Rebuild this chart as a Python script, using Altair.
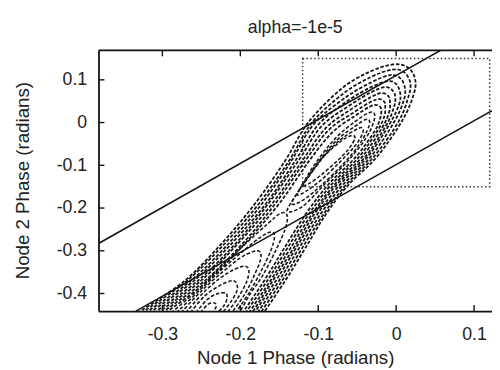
import altair as alt
import pandas as pd

X_DOMAIN = [-0.382, 0.123]
Y_DOMAIN = [-0.441, 0.169]
X_TICKS = [-0.3, -0.2, -0.1, 0.0, 0.1]
Y_TICKS = [-0.4, -0.3, -0.2, -0.1, 0.0, 0.1]

# Outer contour lines enclosing both wells (open, cut by the bottom edge)
BAND_X = [
    [-0.332, -0.272, -0.222, -0.180, -0.142, -0.113, -0.071, -0.035, -0.004, 0.015, 0.024, 0.023, 0.008, -0.025, -0.061, -0.090, -0.117, -0.142, -0.170],
    [-0.327, -0.269, -0.218, -0.175, -0.137, -0.108, -0.067, -0.033, -0.005, 0.010, 0.018, 0.016, 0.003, -0.029, -0.064, -0.093, -0.121, -0.146, -0.174],
    [-0.322, -0.264, -0.213, -0.171, -0.134, -0.105, -0.064, -0.032, -0.008, 0.005, 0.011, 0.010, -0.003, -0.033, -0.068, -0.097, -0.125, -0.150, -0.178],
    [-0.317, -0.260, -0.209, -0.166, -0.129, -0.100, -0.062, -0.032, -0.010, 0.000, 0.005, 0.004, -0.008, -0.037, -0.072, -0.101, -0.129, -0.154, -0.182],
    [-0.311, -0.255, -0.204, -0.163, -0.125, -0.096, -0.059, -0.032, -0.014, -0.005, -0.001, -0.003, -0.013, -0.040, -0.076, -0.105, -0.132, -0.158, -0.185],
    [-0.306, -0.251, -0.201, -0.158, -0.120, -0.091, -0.057, -0.032, -0.018, -0.010, -0.008, -0.009, -0.018, -0.044, -0.079, -0.108, -0.136, -0.161, -0.189],
    [-0.301, -0.246, -0.195, -0.154, -0.116, -0.087, -0.055, -0.033, -0.021, -0.015, -0.014, -0.015, -0.023, -0.048, -0.083, -0.112, -0.140, -0.165, -0.193],
    [-0.296, -0.242, -0.192, -0.149, -0.111, -0.082, -0.054, -0.034, -0.025, -0.020, -0.019, -0.021, -0.028, -0.052, -0.087, -0.116, -0.144, -0.169, -0.197],
]
BAND_Y = [
    [-0.445, -0.371, -0.279, -0.187, -0.088, 0.000, 0.078, 0.118, 0.136, 0.129, 0.104, 0.069, 0.005, -0.081, -0.145, -0.214, -0.295, -0.369, -0.445],
    [-0.445, -0.371, -0.279, -0.187, -0.088, 0.000, 0.069, 0.106, 0.124, 0.118, 0.094, 0.062, 0.002, -0.081, -0.145, -0.214, -0.295, -0.369, -0.445],
    [-0.445, -0.371, -0.279, -0.187, -0.088, -0.002, 0.060, 0.094, 0.111, 0.104, 0.083, 0.053, 0.000, -0.081, -0.145, -0.214, -0.295, -0.369, -0.445],
    [-0.445, -0.371, -0.279, -0.187, -0.088, -0.005, 0.051, 0.083, 0.097, 0.090, 0.071, 0.044, -0.002, -0.081, -0.145, -0.214, -0.295, -0.369, -0.445],
    [-0.445, -0.371, -0.279, -0.187, -0.088, -0.009, 0.041, 0.071, 0.083, 0.076, 0.060, 0.035, -0.007, -0.081, -0.145, -0.214, -0.295, -0.369, -0.445],
    [-0.445, -0.371, -0.279, -0.187, -0.088, -0.014, 0.032, 0.060, 0.069, 0.062, 0.048, 0.025, -0.012, -0.081, -0.145, -0.214, -0.295, -0.369, -0.445],
    [-0.445, -0.371, -0.279, -0.187, -0.088, -0.018, 0.023, 0.048, 0.055, 0.048, 0.037, 0.016, -0.016, -0.081, -0.145, -0.214, -0.295, -0.369, -0.445],
    [-0.445, -0.371, -0.279, -0.187, -0.088, -0.023, 0.014, 0.037, 0.041, 0.035, 0.025, 0.007, -0.021, -0.081, -0.145, -0.214, -0.295, -0.369, -0.445],
]

# Closed loops around the upper well
LOOP_X = [
    [-0.140, -0.124, -0.105, -0.078, -0.053, -0.035, -0.028, -0.029, -0.039, -0.061, -0.092, -0.120],
    [-0.134, -0.119, -0.100, -0.076, -0.053, -0.039, -0.034, -0.037, -0.048, -0.068, -0.096, -0.120],
    [-0.127, -0.113, -0.095, -0.072, -0.053, -0.044, -0.043, -0.053, -0.072, -0.096, -0.116],
    [-0.121, -0.107, -0.090, -0.071, -0.057, -0.053, -0.061, -0.077, -0.096, -0.112],
]
LOOP_Y = [
    [-0.207, -0.157, -0.099, -0.037, 0.002, 0.023, 0.021, 0.000, -0.037, -0.088, -0.145, -0.196],
    [-0.189, -0.143, -0.092, -0.041, -0.009, 0.007, 0.002, -0.018, -0.053, -0.097, -0.147, -0.182],
    [-0.168, -0.129, -0.083, -0.041, -0.018, -0.012, -0.025, -0.055, -0.092, -0.134, -0.161],
    [-0.147, -0.113, -0.074, -0.044, -0.030, -0.037, -0.062, -0.092, -0.122, -0.143],
]

# Arcs around the lower well (open, cut by the bottom edge)
ARC_X = [
    [-0.289, -0.256, -0.224, -0.193, -0.165, -0.148, -0.140, -0.142, -0.154, -0.171, -0.188, -0.201],
    [-0.282, -0.252, -0.222, -0.194, -0.173, -0.160, -0.156, -0.161, -0.174, -0.189, -0.206],
    [-0.276, -0.250, -0.223, -0.201, -0.184, -0.175, -0.174, -0.182, -0.194, -0.211],
    [-0.270, -0.248, -0.226, -0.207, -0.194, -0.189, -0.192, -0.203, -0.217],
    [-0.264, -0.246, -0.227, -0.213, -0.206, -0.204, -0.212, -0.223],
    [-0.257, -0.243, -0.230, -0.219, -0.217, -0.222, -0.230],
    [-0.251, -0.242, -0.233, -0.231, -0.236],
]
ARC_Y = [
    [-0.445, -0.394, -0.336, -0.283, -0.237, -0.212, -0.217, -0.247, -0.297, -0.357, -0.403, -0.445],
    [-0.445, -0.392, -0.341, -0.297, -0.267, -0.256, -0.267, -0.300, -0.350, -0.399, -0.445],
    [-0.445, -0.394, -0.350, -0.318, -0.302, -0.302, -0.320, -0.357, -0.401, -0.445],
    [-0.445, -0.399, -0.364, -0.343, -0.336, -0.346, -0.373, -0.410, -0.445],
    [-0.445, -0.406, -0.382, -0.371, -0.373, -0.392, -0.419, -0.445],
    [-0.445, -0.415, -0.401, -0.399, -0.412, -0.431, -0.445],
    [-0.445, -0.426, -0.422, -0.431, -0.445],
]

# Two straight solid lines
LINE_X = [[-0.382, 0.057], [-0.334, 0.123]]
LINE_Y = [[-0.283, 0.169], [-0.441, 0.028]]

# Dotted box
BOX_X = [-0.120, 0.120]
BOX_Y = [-0.150, 0.150]

FONT = "Liberation Sans"
INK = "#222222"
TICK_DX = 0.0076
TICK_DY = 0.0140


def long(xs, ys, family):
    rows = []
    for c, (cx, cy) in enumerate(zip(xs, ys)):
        for i, (a, b) in enumerate(zip(cx, cy)):
            rows.append({"curve": f"{family}{c}", "i": i, "x": a, "y": b})
    return pd.DataFrame(rows)


label_expr = "datum.value == 0 ? '0' : (datum.value < 0 ? '-' : '') + format(abs(datum.value), '.1f')"

x_axis = alt.Axis(values=X_TICKS, ticks=False, grid=False, domainColor="#111111", domainWidth=1.8,
                  labelFontSize=18, labelFont=FONT, labelColor=INK, labelPadding=15, labelExpr=label_expr,
                  labelOverlap=False, labelFlush=False,
                  title="Node 1 Phase (radians)", titleFontSize=19, titleFont=FONT, titleFontWeight="normal",
                  titleColor=INK, titleY=47, titleBaseline="middle")
y_axis = alt.Axis(values=Y_TICKS, ticks=False, grid=False, domainColor="#111111", domainWidth=1.8,
                  labelFontSize=18, labelFont=FONT, labelColor=INK, labelPadding=12, labelExpr=label_expr,
                  labelOverlap=False, labelFlush=False,
                  title="Node 2 Phase (radians)", titleFontSize=19, titleFont=FONT, titleFontWeight="normal",
                  titleColor=INK, titleX=-77, titleY=132, titleBaseline="middle", titleAngle=270)

X = alt.X("x:Q", scale=alt.Scale(domain=X_DOMAIN, nice=False, zero=False), axis=x_axis)
Y = alt.Y("y:Q", scale=alt.Scale(domain=Y_DOMAIN, nice=False, zero=False), axis=y_axis)

band_style = dict(strokeDash=[3.6, 1.8], strokeWidth=1.8, color="#151515", clip=True)
dash = dict(strokeDash=[3.6, 2.0], strokeWidth=1.6, color="#1a1a1a", clip=True)

band = alt.Chart(long(BAND_X, BAND_Y, "b")).mark_line(interpolate="cardinal", **band_style).encode(
    x=X, y=Y, detail="curve:N", order="i:Q")
loops = alt.Chart(long(LOOP_X, LOOP_Y, "u")).mark_line(interpolate="cardinal-closed", **dash).encode(
    x=X, y=Y, detail="curve:N", order="i:Q")
arcs = alt.Chart(long(ARC_X, ARC_Y, "c")).mark_line(interpolate="cardinal", **dash).encode(
    x=X, y=Y, detail="curve:N", order="i:Q")
lines = alt.Chart(long(LINE_X, LINE_Y, "l")).mark_line(color="#111111", strokeWidth=1.5, clip=True).encode(
    x=X, y=Y, detail="curve:N", order="i:Q")

box_df = pd.DataFrame({"x": [BOX_X[0]], "x2": [BOX_X[1]], "y": [BOX_Y[0]], "y2": [BOX_Y[1]]})
box = alt.Chart(box_df).mark_rect(filled=False, stroke="#333333", strokeDash=[1.5, 2.4], strokeWidth=1.5).encode(
    x=X, x2="x2:Q", y=Y, y2="y2:Q")

top_df = pd.DataFrame({"x": [X_DOMAIN[0]], "x2": [X_DOMAIN[1]], "y": [Y_DOMAIN[1]]})
top = alt.Chart(top_df).mark_rule(color="#111111", strokeWidth=1.8).encode(x=X, x2="x2:Q", y=Y)

xt_rows = []
for v in X_TICKS:
    xt_rows.append({"x": v, "y": Y_DOMAIN[0], "y2": Y_DOMAIN[0] + TICK_DY})
    xt_rows.append({"x": v, "y": Y_DOMAIN[1], "y2": Y_DOMAIN[1] - TICK_DY})
xticks = alt.Chart(pd.DataFrame(xt_rows)).mark_rule(color="#111111", strokeWidth=1.4).encode(x=X, y=Y, y2="y2:Q")

yt_df = pd.DataFrame({"y": Y_TICKS, "x": [X_DOMAIN[0]] * len(Y_TICKS), "x2": [X_DOMAIN[0] + TICK_DX] * len(Y_TICKS)})
yticks = alt.Chart(yt_df).mark_rule(color="#111111", strokeWidth=1.4).encode(x=X, x2="x2:Q", y=Y)

chart = alt.layer(band, loops, arcs, lines, box, top, xticks, yticks).properties(
    width=400, height=265,
    title=alt.Title("alpha=-1e-5", fontSize=18, font=FONT, fontWeight="normal", color=INK, offset=13, anchor="middle"),
    autosize=alt.AutoSizeParams(type="none"),
    padding={"left": 92, "top": 40, "right": 0, "bottom": 62},
).configure_view(stroke=None)

chart.save("out.html", embed_options={"renderer": "svg", "actions": False})
